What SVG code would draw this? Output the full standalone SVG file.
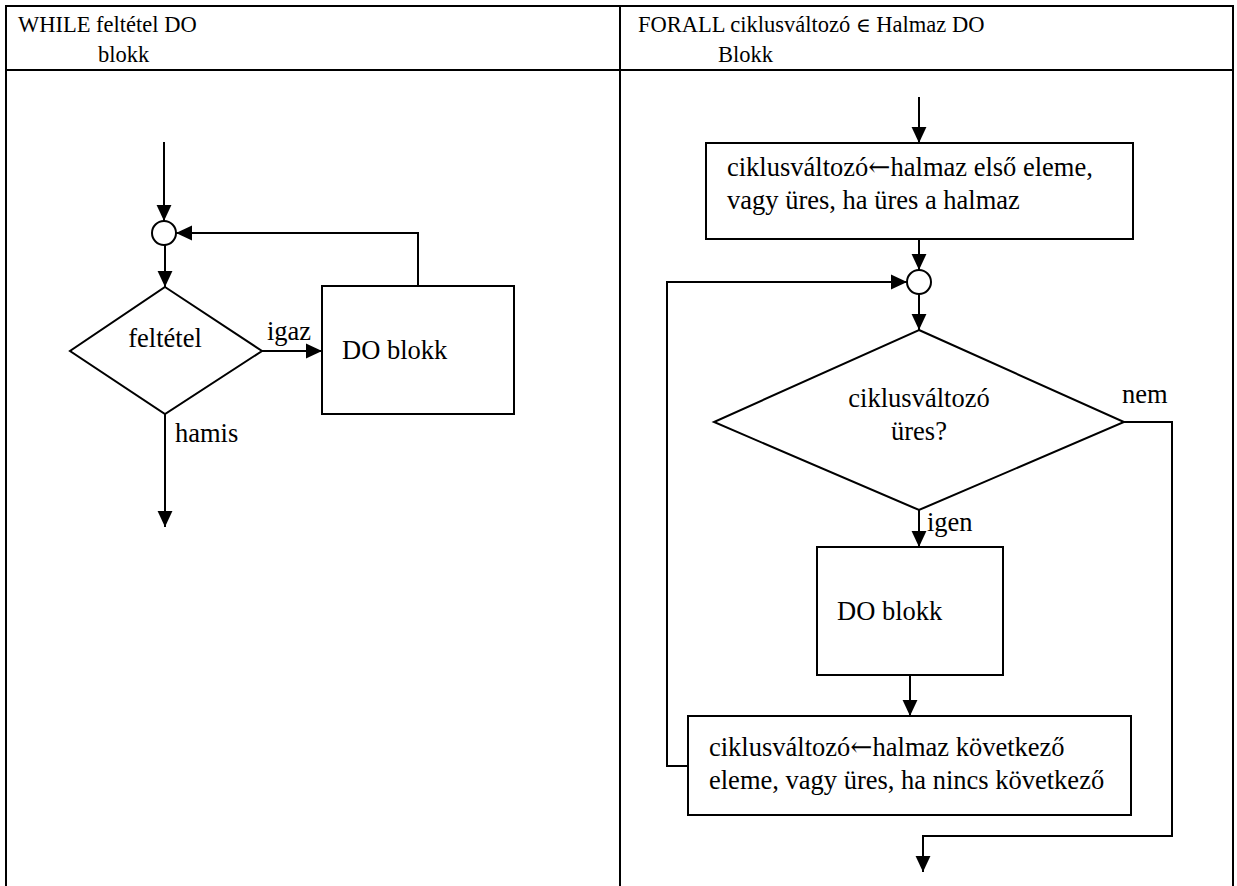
<svg xmlns="http://www.w3.org/2000/svg" width="1237" height="886" viewBox="0 0 1237 886">
  <style>
    .grid { stroke: #000; stroke-width: 2; fill: none; }
    .shape { stroke: #000; stroke-width: 2; fill: #fff; }
    .conn { stroke: #000; stroke-width: 2; fill: none; }
    text { font-family: "Liberation Serif", "DejaVu Serif", serif; fill: #000; }
    .hdr { font-size: 22.5px; }
    .lbl { font-size: 26.5px; }
    .sym { font-family: "DejaVu Serif", serif; }
  </style>
  <defs>
    <marker id="arrow" markerUnits="userSpaceOnUse" markerWidth="16" markerHeight="16" viewBox="0 0 14 14" refX="14" refY="7" orient="auto">
      <path d="M0 0.5 L14 7 L0 13.5 Z" fill="#000"/>
    </marker>
  </defs>
  <rect width="1237" height="886" fill="#fff"/>

  <!-- table frame -->
  <g id="table">
    <path class="grid" d="M6 886 V6 H1233 V886 M620 6 V886 M6 70 H1233"/>
    <text class="hdr" x="18" y="32">WHILE feltétel DO</text>
    <text class="hdr" x="98" y="62">blokk</text>
    <text class="hdr" x="638" y="32">FORALL ciklusváltozó <tspan class="sym" font-size="20">∈</tspan> Halmaz DO</text>
    <text class="hdr" x="718" y="62">Blokk</text>
  </g>

  <!-- connectors -->
  <g id="connectors">
    <path class="conn" d="M164 142 V221" marker-end="url(#arrow)"/>
    <path class="conn" d="M165 245 V287" marker-end="url(#arrow)"/>
    <path class="conn" d="M262 351 H322" marker-end="url(#arrow)"/>
    <path class="conn" d="M418 286 V233 H176" marker-end="url(#arrow)"/>
    <path class="conn" d="M165 414 V527" marker-end="url(#arrow)"/>

    <path class="conn" d="M919 97 V143" marker-end="url(#arrow)"/>
    <path class="conn" d="M919 239 V270" marker-end="url(#arrow)"/>
    <path class="conn" d="M688 766 H667 V282 H907" marker-end="url(#arrow)"/>
    <path class="conn" d="M919 294 V330" marker-end="url(#arrow)"/>
    <path class="conn" d="M1124 422 H1172 V836 H923 V872" marker-end="url(#arrow)"/>
    <path class="conn" d="M919 510 V547" marker-end="url(#arrow)"/>
    <path class="conn" d="M910 675 V716" marker-end="url(#arrow)"/>
  </g>

  <!-- edge labels -->
  <g id="edge-labels">
    <text class="lbl" x="267" y="340">igaz</text>
    <text class="lbl" x="175" y="442">hamis</text>
    <text class="lbl" x="1122" y="403">nem</text>
    <text class="lbl" x="927" y="531">igen</text>
  </g>

  <!-- WHILE loop -->
  <g id="while-join">
    <circle class="shape" cx="164" cy="233" r="12"/>
  </g>
  <g id="while-cond">
    <polygon class="shape" points="165,287 262,351 165,414 70,351"/>
    <text class="lbl" x="165" y="347" text-anchor="middle">feltétel</text>
  </g>
  <g id="while-body">
    <rect class="shape" x="322" y="286" width="192" height="128"/>
    <text class="lbl" x="342" y="359">DO blokk</text>
  </g>

  <!-- FORALL loop -->
  <g id="forall-init">
    <rect class="shape" x="706" y="143" width="427" height="96"/>
    <text class="lbl" x="727" y="176">ciklusváltozó<tspan class="sym">←</tspan>halmaz első eleme,</text>
    <text class="lbl" x="727" y="209">vagy üres, ha üres a halmaz</text>
  </g>
  <g id="forall-join">
    <circle class="shape" cx="919" cy="282" r="12"/>
  </g>
  <g id="forall-cond">
    <polygon class="shape" points="919,330 1124,422 919,510 714,422"/>
    <text class="lbl" x="919" y="407" text-anchor="middle">ciklusváltozó</text>
    <text class="lbl" x="919" y="440" text-anchor="middle">üres?</text>
  </g>
  <g id="forall-body">
    <rect class="shape" x="817" y="547" width="186" height="128"/>
    <text class="lbl" x="837" y="620">DO blokk</text>
  </g>
  <g id="forall-next">
    <rect class="shape" x="688" y="716" width="443" height="99"/>
    <text class="lbl" x="709" y="756">ciklusváltozó<tspan class="sym">←</tspan>halmaz következő</text>
    <text class="lbl" x="709" y="789">eleme, vagy üres, ha nincs következő</text>
  </g>
</svg>
